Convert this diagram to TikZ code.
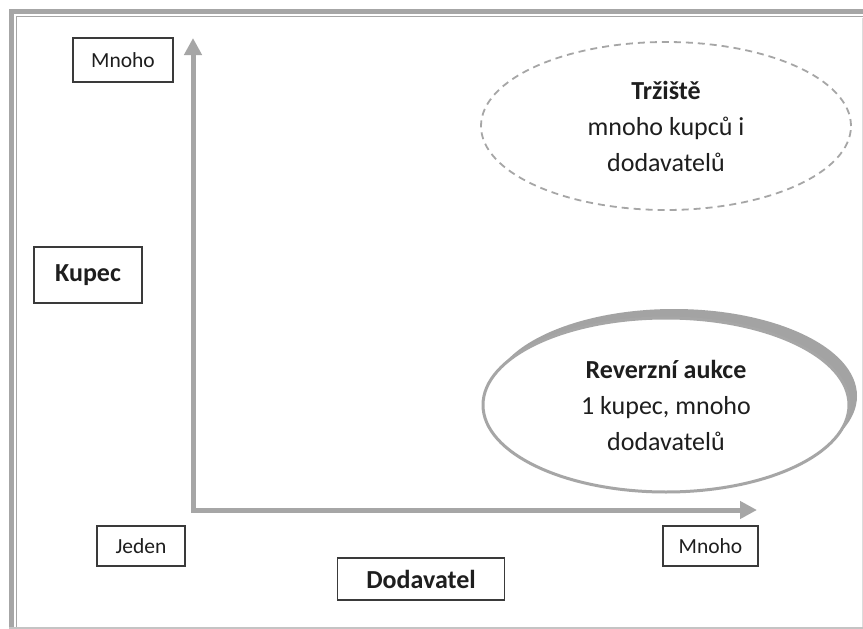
\documentclass[tikz,border=0pt]{standalone}
\usepackage{fontspec}
\setmainfont{Carlito}
\usetikzlibrary{shapes.geometric,arrows.meta}
\definecolor{axisgray}{HTML}{A6A6A6}
\definecolor{shadowgray}{HTML}{A3A3A3}
\definecolor{boxline}{HTML}{3A3A3A}
\definecolor{txt}{HTML}{1E1E1E}
\definecolor{framelight}{HTML}{C4C4C4}
\begin{document}
\begin{tikzpicture}[x=1pt,y=-1pt,
  lblbox/.style={draw=boxline, line width=1.2pt, fill=white, inner sep=0pt, text=txt,
    font=\fontsize{21.5}{26}\selectfont},
  boldbox/.style={lblbox, font=\fontsize{26}{30}\selectfont\bfseries},
  axisline/.style={draw=axisgray, line width=5pt, line join=miter,
    {Triangle[length=17pt,width=17pt]}-{Triangle[length=17pt,width=17pt]}},
  bubble/.style={ellipse, inner sep=0pt, align=center, text=txt,
    font=\fontsize{26}{36}\selectfont}
]
\fill[white] (0,0) rectangle (863,629);
\useasboundingbox (0,0) rectangle (863,629);

% frame
\draw[axisgray, line width=5pt] (11.5,629) -- (11.5,11.5) -- (863,11.5);
\draw[axisgray, line width=1.3pt] (16.8,627) -- (16.8,16.8) -- (863,16.8);
\draw[framelight, line width=1.5pt] (9,627.8) -- (863,627.8);
\draw[framelight!60, line width=1pt] (862.5,18) -- (862.5,627);

% axes
\coordinate (ytip) at (193,38);
\coordinate (orig) at (193,510);
\coordinate (xtip) at (757,510);
\draw[axisline] (ytip) -- (orig) -- (xtip);

% label boxes
\node[lblbox, minimum width=100pt, minimum height=44pt] (ymany) at (123,60) {Mnoho};
\node[boldbox, minimum width=108pt, minimum height=56pt] (kupec) at (88,275) {Kupec};
\node[lblbox, minimum width=88pt, minimum height=40pt] (jeden) at (141,546) {Jeden};
\node[boldbox, minimum width=167pt, minimum height=42pt] (dodavatel) at (421,579) {Dodavatel};
\node[lblbox, minimum width=95pt, minimum height=40pt] (xmany) at (710.5,546) {Mnoho};

% Trziste ellipse
\node[bubble, draw=axisgray, line width=1.8pt, dash pattern=on 7pt off 5pt,
  minimum width=370pt, minimum height=168pt] (trziste) at (666,126)
  {\textbf{Tržiště}\\mnoho kupců i\\dodavatelů};

% Reverzni aukce ellipse with shadow
\node[ellipse, fill=shadowgray, minimum width=366pt, minimum height=174pt, inner sep=0pt]
  (aukceshadow) at (674,396) {};
\node[bubble, draw=axisgray, fill=white, line width=3pt,
  minimum width=366pt, minimum height=174pt] (aukce) at (666,405)
  {\textbf{Reverzní aukce}\\1 kupec, mnoho\\dodavatelů};
\end{tikzpicture}
\end{document}
